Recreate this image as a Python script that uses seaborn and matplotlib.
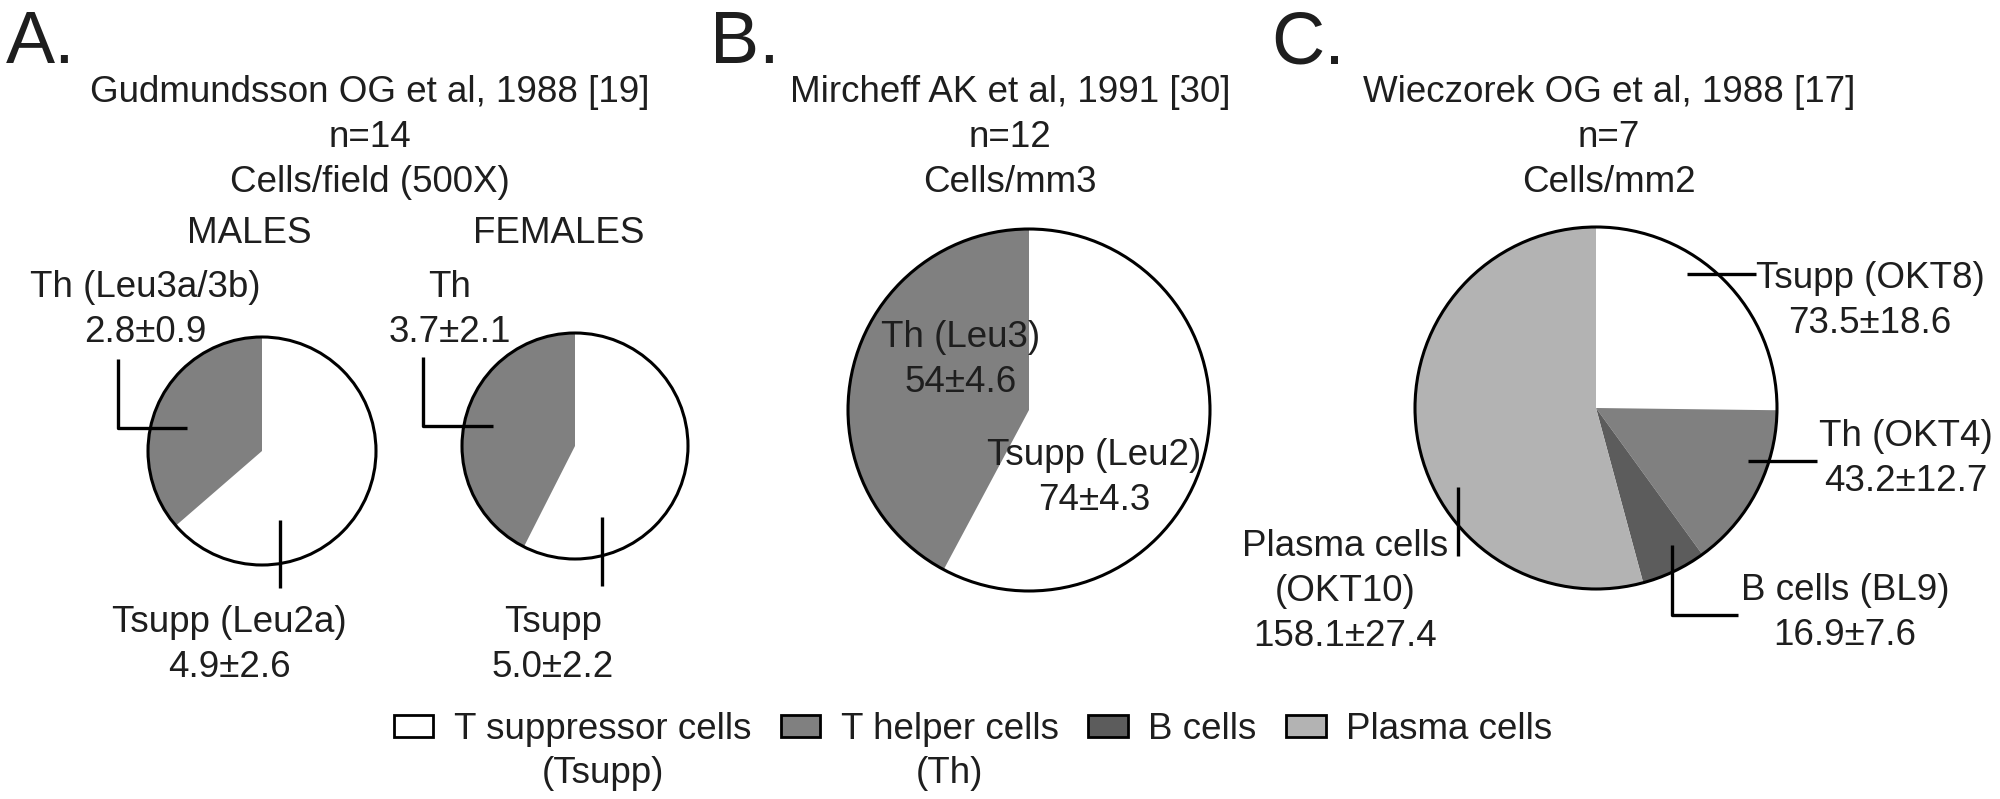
import matplotlib
matplotlib.use("Agg")
import matplotlib.pyplot as plt
from matplotlib.patches import Patch, Circle
import seaborn as sns

# ---- data ----
cell_types = ["T suppressor cells", "T helper cells", "B cells", "Plasma cells"]
cell_abbr = ["(Tsupp)", "(Th)", "", ""]
cell_colors = ["#ffffff", "#808080", "#5c5c5c", "#b3b3b3"]

# A. Gudmundsson OG et al, 1988 -- order: Tsupp, Th
males_vals = [4.9, 2.8]
males_sd = [2.6, 0.9]
females_vals = [5.0, 3.7]
females_sd = [2.2, 2.1]
# B. Mircheff AK et al, 1991 -- Tsupp, Th
mircheff_vals = [74, 54]
mircheff_sd = [4.3, 4.6]
# C. Wieczorek OG et al, 1988 -- Tsupp, Th, B, Plasma
wieczorek_vals = [73.5, 43.2, 16.9, 158.1]
wieczorek_sd = [18.6, 12.7, 7.6, 27.4]

titles = [
    ["Gudmundsson OG et al, 1988 [19]", "n=14", "Cells/field (500X)"],
    ["Mircheff AK et al, 1991 [30]", "n=12", "Cells/mm3"],
    ["Wieczorek OG et al, 1988 [17]", "n=7", "Cells/mm2"],
]
panel_letters = ["A.", "B.", "C."]


def fmt(v, sd):
    return f"{v:g}\u00b1{sd:g}" if v != 5.0 else f"{v:.1f}\u00b1{sd:g}"


sns.set_theme(style="white")
plt.rcParams["font.family"] = ["Liberation Sans", "DejaVu Sans"]
TXT = "#1e1e1e"
FS = 26.5

W, H = 2000, 799
fig = plt.figure(figsize=(W / 100, H / 100), dpi=100)

# overlay axes in pixel coordinates for the annotations
canvas = fig.add_axes([0, 0, 1, 1])
canvas.set_xlim(0, W)
canvas.set_ylim(H, 0)
canvas.axis("off")
canvas.set_zorder(5)


def pie_at(cx, cy, r, vals):
    ax = fig.add_axes([(cx - r) / W, 1 - (cy + r) / H, 2 * r / W, 2 * r / H])
    ax.pie(vals, colors=cell_colors[:len(vals)], startangle=90, counterclock=False,
           radius=1, wedgeprops=dict(linewidth=0))
    ax.add_patch(Circle((0, 0), 1, fill=False, lw=2.2, ec="black", clip_on=False))
    ax.set_xlim(-1, 1)
    ax.set_ylim(-1, 1)
    ax.set_aspect("equal")
    ax.axis("off")
    return ax


def label(x, y, lines, size=FS):
    for i, s in enumerate(lines):
        canvas.text(x, y + 45 * i, s, ha="center", va="baseline", fontsize=size, color=TXT)


def leader(xs, ys):
    canvas.plot(xs, ys, color="black", lw=2.4, solid_capstyle="butt")


# panel letters and headers
for letter, x in zip(panel_letters, [6, 710, 1271]):
    canvas.text(x, 63, letter, ha="left", va="baseline", fontsize=53, color=TXT)
for lines, x in zip(titles, [370, 1010, 1609]):
    label(x, 102, lines)

# ---- A ----
label(249, 243, ["MALES"])
label(559, 243, ["FEMALES"])
pie_at(262, 451, 114, males_vals)
pie_at(575, 446, 113, females_vals)
label(145, 297, ["Th (Leu3a/3b)", fmt(males_vals[1], males_sd[1])])
label(450, 297, ["Th", fmt(females_vals[1], females_sd[1])])
label(229, 632, ["Tsupp (Leu2a)", fmt(males_vals[0], males_sd[0])])
label(553, 632, ["Tsupp", fmt(females_vals[0], females_sd[0])])
leader([118, 118, 187], [359, 428, 428])
leader([423, 423, 493], [357, 426, 426])
leader([280, 280], [520, 588])
leader([602, 602], [517, 586])

# ---- B ----
pie_at(1029, 410, 181, mircheff_vals)
label(961, 347, ["Th (Leu3)", fmt(mircheff_vals[1], mircheff_sd[1])])
label(1094, 465, ["Tsupp (Leu2)", fmt(mircheff_vals[0], mircheff_sd[0])])

# ---- C ----
pie_at(1596, 408, 181, wieczorek_vals)
label(1870, 288, ["Tsupp (OKT8)", fmt(wieczorek_vals[0], wieczorek_sd[0])])
label(1906, 446, ["Th (OKT4)", fmt(wieczorek_vals[1], wieczorek_sd[1])])
label(1345, 556, ["Plasma cells", "(OKT10)", fmt(wieczorek_vals[3], wieczorek_sd[3])])
label(1845, 600, ["B cells (BL9)", fmt(wieczorek_vals[2], wieczorek_sd[2])])
leader([1687, 1756], [274, 274])
leader([1748, 1817], [461, 461])
leader([1458, 1458], [487, 556])
leader([1672, 1672, 1738], [545, 615, 615])

# ---- legend ----
handles = [Patch(facecolor=c, edgecolor="black", linewidth=2) for c in cell_colors]
leg = fig.legend(handles=handles, labels=cell_types, ncol=4, loc="upper left",
                 bbox_to_anchor=(394 / W, 1 - 712 / H), frameon=False, fontsize=FS,
                 handlelength=1.07, handleheight=0.56, handletextpad=0.56,
                 columnspacing=0.8, borderpad=0, borderaxespad=0)
for t in leg.get_texts():
    t.set_color(TXT)

fig.canvas.draw()
for t, abbr in zip(leg.get_texts(), cell_abbr):
    if abbr:
        bb = t.get_window_extent()
        canvas.text((bb.x0 + bb.x1) / 2, 783, abbr, ha="center", va="baseline",
                    fontsize=FS, color=TXT)

fig.savefig("out.png", dpi=100)
